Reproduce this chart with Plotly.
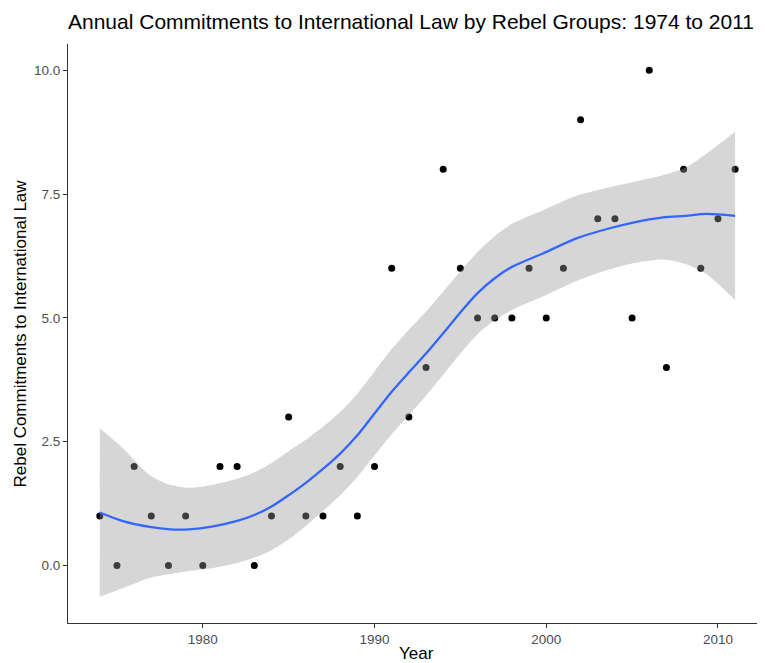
import plotly.graph_objects as go

# Observed data
years = list(range(1974, 2012))
commitments = [1, 0, 2, 1, 0, 1, 0, 2, 2, 0,
               1, 3, 1, 1, 2, 1, 2, 6, 3, 4,
               8, 6, 5, 5, 5, 6, 5, 6, 9, 7,
               7, 5, 10, 4, 8, 6, 7, 8]

# Smoothed (loess) curve and its confidence band
smooth_x = [1974.0, 1975.4, 1976.9, 1978.1, 1979.2, 1980.6, 1982.0, 1983.0, 1984.0, 1985.0,
            1986.0, 1987.0, 1988.0, 1989.0, 1990.0, 1991.0, 1992.0, 1993.0, 1994.0, 1995.0,
            1996.0, 1997.0, 1998.0, 1999.8, 2001.8, 2003.7, 2005.0, 2006.8, 2008.1, 2009.3,
            2011.0]
smooth_y = [1.07, 0.89, 0.78, 0.73, 0.73, 0.79, 0.90, 1.02, 1.19, 1.42,
            1.67, 1.95, 2.26, 2.63, 3.07, 3.51, 3.90, 4.28, 4.69, 5.11,
            5.50, 5.80, 6.03, 6.30, 6.61, 6.81, 6.92, 7.03, 7.06, 7.10,
            7.06]
smooth_upper = [2.77, 2.35, 1.83, 1.63, 1.57, 1.63, 1.75, 1.88, 2.07, 2.31,
                2.54, 2.80, 3.10, 3.47, 3.92, 4.37, 4.76, 5.13, 5.53, 5.94,
                6.33, 6.65, 6.90, 7.17, 7.47, 7.64, 7.74, 7.88, 8.03, 8.31,
                8.76]
smooth_lower = [-0.63, -0.45, -0.25, -0.17, -0.11, -0.05, 0.05, 0.16, 0.31, 0.53,
                0.80, 1.10, 1.42, 1.79, 2.22, 2.65, 3.04, 3.43, 3.85, 4.28,
                4.67, 4.95, 5.16, 5.43, 5.75, 5.98, 6.10, 6.18, 6.09, 5.89,
                5.36]

x_ticks = [1980, 1990, 2000, 2010]
y_ticks = [0.0, 2.5, 5.0, 7.5, 10.0]
y_tick_text = ["0.0", "2.5", "5.0", "7.5", "10.0"]

FONT = "Liberation Sans, Arial, sans-serif"

fig = go.Figure()

fig.add_trace(go.Scatter(
    x=years, y=commitments, mode="markers",
    marker=dict(color="black", size=7, line=dict(width=0)),
    showlegend=False))

fig.add_trace(go.Scatter(
    x=smooth_x, y=smooth_upper, mode="lines",
    line=dict(width=0, shape="spline", smoothing=0.8), showlegend=False, hoverinfo="skip"))
fig.add_trace(go.Scatter(
    x=smooth_x, y=smooth_lower, mode="lines",
    line=dict(width=0, shape="spline", smoothing=0.8), fill="tonexty",
    fillcolor="rgba(153,153,153,0.4)", showlegend=False, hoverinfo="skip"))

fig.add_trace(go.Scatter(
    x=smooth_x, y=smooth_y, mode="lines",
    line=dict(color="#3366FF", width=2.3, shape="spline", smoothing=0.8),
    showlegend=False))

# The page adds an 8px body margin, so the figure is 8px smaller than the window
fig.update_layout(
    width=757, height=655,
    margin=dict(l=60, r=0, t=36, b=40, autoexpand=False),
    paper_bgcolor="white", plot_bgcolor="white",
    font=dict(family=FONT, color="black"),
    title=dict(text="Annual Commitments to International Law by Rebel Groups: 1974 to 2011",
               xref="paper", x=0, xanchor="left",
               yref="container", y=1 - 14 / 655, yanchor="middle",
               font=dict(size=21, color="black")),
    annotations=[
        dict(text="Year", xref="paper", yref="paper", x=0.5, y=-0.0535,
             xanchor="center", yanchor="middle", showarrow=False,
             font=dict(size=17, color="black", family=FONT)),
        dict(text="Rebel Commitments to International Law", xref="paper", yref="paper",
             x=-48 / 697, y=0.5, xanchor="center", yanchor="middle", textangle=-90,
             showarrow=False, font=dict(size=17, color="black", family=FONT)),
    ],
)

fig.update_xaxes(
    range=[1972.15, 2012.74], tickvals=x_ticks, ticktext=[str(t) for t in x_ticks],
    showgrid=False, zeroline=False, showline=True, linecolor="#333333", linewidth=1.2,
    ticks="outside", ticklen=4, tickcolor="#333333", tickwidth=1,
    tickfont=dict(size=13.5, color="#4D4D4D"), automargin=False)

fig.update_yaxes(
    range=[-1.16, 10.53], tickvals=y_ticks, ticktext=y_tick_text,
    showgrid=False, zeroline=False, showline=True, linecolor="#333333", linewidth=1.2,
    ticks="outside", ticklen=4, tickcolor="#333333", tickwidth=1,
    tickfont=dict(size=13.5, color="#4D4D4D"), automargin=False)

fig.write_html("out.html")
